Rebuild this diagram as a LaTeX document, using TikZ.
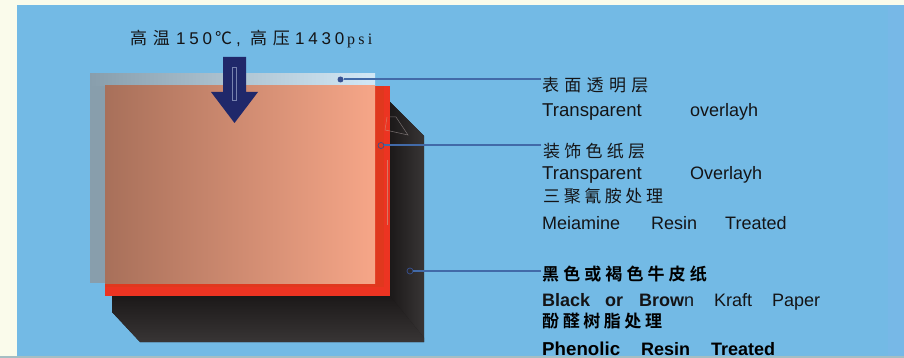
\documentclass[tikz,border=0pt]{standalone}
\usepackage{fontspec}
\setmainfont{Liberation Sans}
\newfontfamily\cjkwide[LetterSpace=31]{Noto Sans CJK SC}
\newfontfamily\cjkmid[LetterSpace=25]{Noto Sans CJK SC}
\newfontfamily\cjknarrow[LetterSpace=21]{Noto Sans CJK SC}
\newfontfamily\cjkboldmid[LetterSpace=24]{Noto Sans CJK SC Bold}
\newfontfamily\cjkboldnarrow[LetterSpace=21]{Noto Sans CJK SC Bold}
\newfontfamily\titlefont[LetterSpace=33]{Noto Sans CJK SC}
\newfontfamily\titleplain{Noto Sans CJK SC}
\newfontfamily\titlelatin[LetterSpace=22]{Liberation Sans}
\newfontfamily\titleserif[LetterSpace=20]{Liberation Serif}
\definecolor{paper}{RGB}{250,251,235}
\definecolor{skyblue}{RGB}{115,186,229}
\definecolor{edgeblue}{RGB}{119,184,231}
\definecolor{bottomgray}{RGB}{165,190,195}
\definecolor{inkblack}{RGB}{20,20,22}
\definecolor{leader}{RGB}{66,106,168}
\definecolor{dotblue}{RGB}{55,80,145}
\definecolor{arrowblue}{RGB}{32,40,106}
\definecolor{kraft}{RGB}{28,25,25}
\definecolor{kraftlight}{RGB}{56,53,53}
\definecolor{redsheet}{RGB}{236,52,34}
\definecolor{reddark}{RGB}{224,56,30}
\definecolor{peachleft}{RGB}{168,112,90}
\definecolor{peachright}{RGB}{246,166,136}
\definecolor{glassleft}{RGB}{136,158,172}
\definecolor{glassright}{RGB}{210,232,246}
\definecolor{paleline}{RGB}{214,120,100}
\definecolor{palegray}{RGB}{120,112,112}
\definecolor{arrowline}{RGB}{120,130,175}
\tikzset{
  cjklabel/.style={anchor=base west,inner sep=0pt,text=inkblack},
  enlabel/.style={anchor=base west,inner sep=0pt,text=inkblack,font=\fontsize{18}{20}\selectfont},
  dotmark/.style={circle,fill=dotblue,inner sep=0pt,minimum size=6pt},
  ringmark/.style={circle,draw=dotblue,line width=.7pt,inner sep=0pt,minimum size=6pt},
  leaderline/.style={draw=leader,line width=2pt},
}
\newcommand{\cjksize}{\fontsize{17}{18}\selectfont}
\begin{document}
\begin{tikzpicture}[x=1pt,y=-1pt]
\useasboundingbox (0,0) rectangle (904,358);
% page and panel
\fill[paper] (0,0) rectangle (904,358);
\fill[skyblue] (17,5) rectangle (904,356);
\fill[edgeblue] (888,5) rectangle (904,356);
\fill[bottomgray] (0,356) rectangle (904,358);
% black kraft sheet
\begin{scope}
\clip (390,102) -- (424,136) -- (424,342) -- (140,342) -- (112,312) -- (112,290) -- (390,290) -- cycle;
\fill[kraft] (100,95) rectangle (430,345);
\begin{scope}
\clip (390,95) -- (430,95) -- (430,345) -- (390,296) -- cycle;
\shade[left color=kraft,right color=kraftlight] (390,95) rectangle (424,345);
\end{scope}
\begin{scope}
\clip (100,296) -- (390,296) -- (430,345) -- (100,345) -- cycle;
\shade[top color=kraft,bottom color=kraftlight] (100,296) rectangle (430,342);
\end{scope}
\end{scope}
% red decor sheet
\fill[redsheet] (105,86) rectangle (390,296);
\fill[reddark] (375,86) rectangle (384,287);
\fill[reddark] (105,283) rectangle (384,287);
% overlay
\fill[glassleft] (90,74) rectangle (105,283);
\shade[left color=glassleft,right color=glassright] (90,74) rectangle (375,86);
% peach face
\shade[left color=peachleft,right color=peachright] (105,86) rectangle (375,283);
% small marks on the sheet edge
\draw[paleline,line width=.5pt] (387,117) -- (385,130) -- (390,131);
\draw[palegray,line width=.5pt] (390,131) -- (408,135) -- (396,117) -- (390,117);
\draw[paleline,line width=.5pt] (387,160) -- (387,225);
% press arrow
\fill[arrowblue] (223,57) -- (246,57) -- (246,92) -- (258,92) -- (234.5,123) -- (211,92) -- (223,92) -- cycle;
\draw[arrowline,line width=.6pt] (232.5,67) rectangle (236.5,100);
% title
\node[anchor=base west,inner sep=0pt,text=inkblack] (title) at (130,45)
  {\makebox[46pt][l]{\titlefont\cjksize 高温}\makebox[39pt][l]{\titlelatin\fontsize{17}{18}\selectfont 150}\makebox[21pt][l]{\titleplain\cjksize ℃}\makebox[14pt][l]{\titlelatin\fontsize{17}{18}\selectfont ,}\makebox[45pt][l]{\titlefont\cjksize 高压}\makebox[52pt][l]{\titlelatin\fontsize{17}{18}\selectfont 1430}{\titleserif\fontsize{16}{18}\selectfont psi}};
% right column
\node[cjklabel] (t1) at (542,91.5) {\cjkwide\cjksize 表面透明层};
\node[enlabel] (e1) at (542,117) {\makebox[148pt][l]{\fontsize{18.6}{20}\selectfont Transparent}overlayh};
\node[cjklabel] (t2) at (543,158) {\cjkmid\cjksize 装饰色纸层};
\node[enlabel] (e2) at (542,179) {\makebox[148pt][l]{\fontsize{18.6}{20}\selectfont Transparent}Overlayh};
\node[cjklabel] (t3) at (543,202.5) {\cjknarrow\cjksize 三聚氰胺处理};
\node[enlabel] (e3) at (542,229) {\makebox[109pt][l]{Meiamine}\makebox[74pt][l]{Resin}Treated};
\node[cjklabel,text=black] (t4) at (542,280.5) {\cjkboldmid\cjksize 黑色或褐色牛皮纸};
\node[enlabel] (e4) at (542,306) {\makebox[63pt][l]{\bfseries Black}\makebox[34pt][l]{\bfseries or}\makebox[75pt][l]{\bfseries Brow\mdseries n}\makebox[58pt][l]{Kraft}Paper};
\node[cjklabel,text=black] (t5) at (542,327) {\cjkboldnarrow\cjksize 酚醛树脂处理};
\node[enlabel,font=\bfseries\fontsize{18}{20}\selectfont,text=black] (e5) at (542,355) {\makebox[99pt][l]{\fontsize{18.7}{20}\selectfont Phenolic}\makebox[70pt][l]{Resin}Treated};
% leaders
\node[dotmark] (d1) at (340.5,79.5) {};
\node[ringmark] (d2) at (381,145.5) {};
\node[ringmark] (d3) at (410,271) {};
\coordinate (c1) at (541,79.5);
\coordinate (c2) at (541,145.5);
\coordinate (c3) at (541,271);
\draw[leaderline] (d1) -- (c1);
\draw[leaderline] (d2) -- (c2);
\draw[leaderline] (d3) -- (c3);
\end{tikzpicture}
\end{document}
